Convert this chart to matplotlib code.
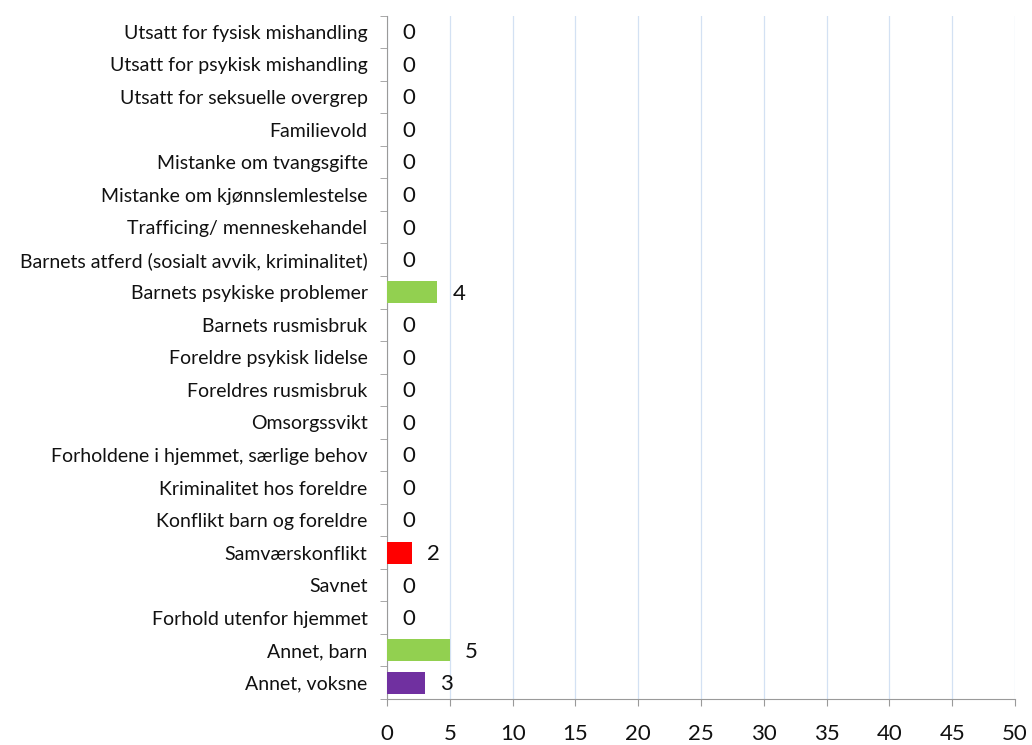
import numpy as np
import matplotlib.pyplot as plt
from matplotlib.ticker import FixedLocator

categories = ['Utsatt for fysisk mishandling', 'Utsatt for psykisk mishandling',
              'Utsatt for seksuelle overgrep', 'Familievold', 'Mistanke om tvangsgifte',
              'Mistanke om kjønnslemlestelse', 'Trafficing/ menneskehandel',
              'Barnets atferd (sosialt avvik, kriminalitet)', 'Barnets psykiske problemer',
              'Barnets rusmisbruk', 'Foreldre psykisk lidelse', 'Foreldres rusmisbruk',
              'Omsorgssvikt', 'Forholdene i hjemmet, særlige behov',
              'Kriminalitet hos foreldre', 'Konflikt barn og foreldre', 'Samværskonflikt',
              'Savnet', 'Forhold utenfor hjemmet', 'Annet, barn', 'Annet, voksne']
values = [0, 0, 0, 0, 0, 0, 0, 0, 4, 0, 0, 0, 0, 0, 0, 0, 2, 0, 0, 5, 3]
colors = ['#92D050'] * 21
colors[16] = '#FF0000'
colors[20] = '#7030A0'

plt.rcParams['font.family'] = ['Lato', 'DejaVu Sans']

fig = plt.figure(figsize=(10.32, 7.45), dpi=100)
ax = fig.add_axes([0.375, 0.0617, 0.6085, 0.9173])

y = np.arange(len(categories))
ax.barh(y, values, height=0.68, color=colors, zorder=3)
for yi, v in zip(y, values):
    ax.annotate(str(v), (v, yi), xytext=(11, -1), textcoords='offset points',
                va='center', ha='left', fontsize=16, color='#111111')

ax.set_ylim(len(categories) - 0.5, -0.5)
ax.set_xlim(0, 50)
ax.set_xticks(np.arange(0, 51, 5))
ax.set_yticks(y)
ax.set_yticklabels(categories, fontsize=14, color='#111111')
ax.yaxis.set_minor_locator(FixedLocator(np.arange(-0.5, len(categories), 1)))
ax.tick_params(axis='y', which='major', length=0, pad=14)
ax.tick_params(axis='y', which='minor', length=5, color='#9a9a9a')
ax.tick_params(axis='x', length=5, color='#9a9a9a', labelsize=16, labelcolor='#111111', pad=13)

ax.grid(axis='x', color='#D3E1F3', linewidth=0.9, zorder=0)
for s in ['top', 'right']:
    ax.spines[s].set_visible(False)
ax.spines['left'].set_color('#9a9a9a')
ax.spines['bottom'].set_color('#9a9a9a')

fig.savefig('out.png')
